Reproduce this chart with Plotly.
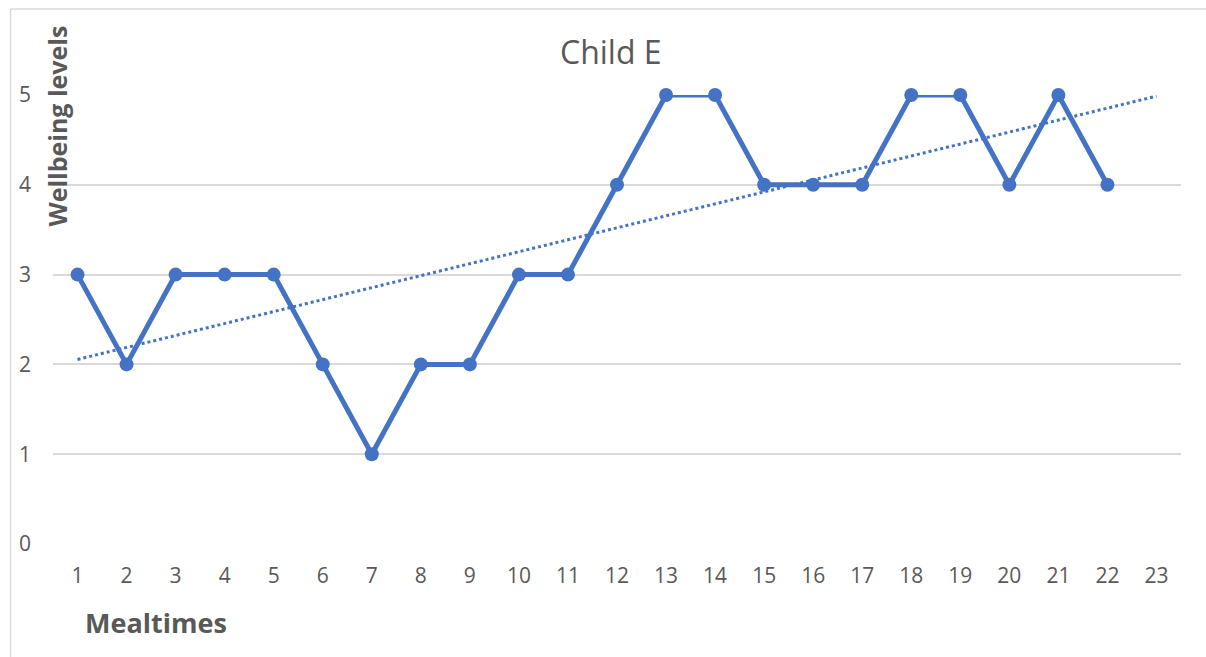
import numpy as np
import plotly.graph_objects as go

categories = list(range(1, 24))
mealtimes = list(range(1, 23))
wellbeing = [3, 2, 3, 3, 3, 2, 1, 2, 2, 3, 3, 4, 5, 5, 4, 4, 4, 5, 5, 4, 5, 4]
y_ticks = [0, 1, 2, 3, 4, 5]

W, H = 1206, 657
L, R, T, B = 52.5, 24.5, 95, 113
pw, ph = W - L - R, H - T - B

def px(x):
    return (x - L) / pw

def py(y):
    return (H - B - y) / ph

blue = "#4472C4"
grey = "#595959"
font = "Open Sans"

# linear trendline (Excel-style), extended to the last category
slope, intercept = np.polyfit(mealtimes, wellbeing, 1)
trend_x = [categories[0], categories[-1]]
trend_y = [slope * x + intercept for x in trend_x]

fig = go.Figure()
fig.add_trace(go.Scatter(
    x=trend_x, y=trend_y, mode="lines",
    line=dict(color=blue, width=3, dash="dot"),
    hoverinfo="skip", showlegend=False, cliponaxis=False,
))
fig.add_trace(go.Scatter(
    x=mealtimes, y=wellbeing, mode="lines+markers",
    line=dict(color=blue, width=5),
    marker=dict(color=blue, size=14),
    showlegend=False, cliponaxis=False,
))

fig.update_layout(
    width=W, height=H,
    margin=dict(l=L, r=R, t=T, b=B),
    paper_bgcolor="white", plot_bgcolor="white",
    font=dict(family=font, color=grey),
    xaxis=dict(
        range=[0.5, 23.5], tickmode="array", tickvals=categories,
        ticktext=[str(c) for c in categories],
        showgrid=False, zeroline=False, showline=False,
        tickfont=dict(size=21, color=grey), ticks="", ticklabelstandoff=17,
    ),
    yaxis=dict(
        range=[0, 5], tickmode="array", tickvals=y_ticks,
        showgrid=True, gridcolor="#D9D9D9", gridwidth=1.6,
        zeroline=False, showline=False,
        tickfont=dict(size=21, color=grey), ticks="", ticklabelstandoff=21,
    ),
    shapes=[
        dict(type="line", xref="paper", yref="paper",
             x0=px(10), x1=px(10), y0=py(9), y1=py(H + 5),
             line=dict(color="#D9D9D9", width=1.5)),
        dict(type="line", xref="paper", yref="paper",
             x0=px(10), x1=px(W + 5), y0=py(9), y1=py(9),
             line=dict(color="#D9D9D9", width=1.5)),
    ],
    annotations=[
        dict(text="Child E", xref="paper", yref="paper",
             x=px(611), y=py(52), xanchor="center", yanchor="middle",
             showarrow=False, font=dict(size=32, color=grey, family=font)),
        dict(text="<b>Wellbeing levels</b>", xref="paper", yref="paper",
             x=px(57), y=py(126), xanchor="center", yanchor="middle",
             textangle=-90, showarrow=False,
             font=dict(size=25, color=grey, family=font)),
        dict(text="<b>Mealtimes</b>", xref="paper", yref="paper",
             x=px(156), y=py(622), xanchor="center", yanchor="middle",
             showarrow=False, font=dict(size=27, color=grey, family=font)),
    ],
)

fig.write_html("out.html")
